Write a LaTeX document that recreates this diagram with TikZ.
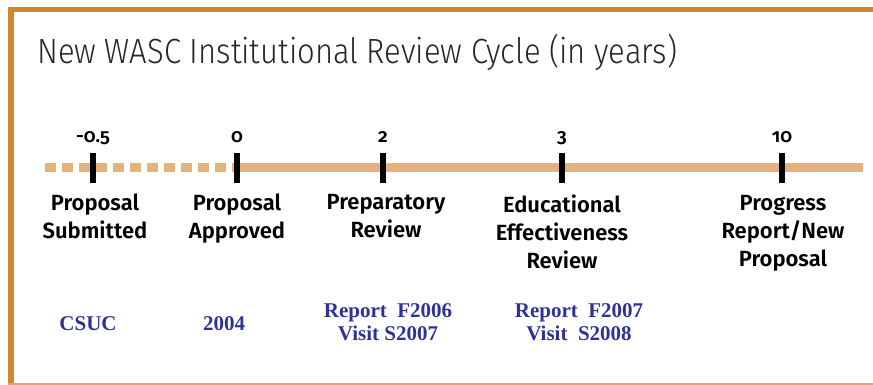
\documentclass[tikz,border=0pt]{standalone}
\usepackage{fontspec}
\setmainfont{Fira Sans}
\newfontfamily\titlefont{Fira Sans Light}
\newfontfamily\labelfont{Fira Sans SemiBold}
\newfontfamily\yearfont{Fira Sans SemiBold}[RawFeature=+onum]
\newfontfamily\datefont{Liberation Serif}
\definecolor{frameorange}{RGB}{210,133,44}
\definecolor{frameorangelight}{RGB}{230,165,90}
\definecolor{timeline}{RGB}{228,178,124}
\definecolor{dateblue}{RGB}{46,50,150}
\tikzset{
  titletext/.style={anchor=base west, inner sep=0pt, xscale=0.885, font=\titlefont\fontsize{35}{40}\selectfont, text=black!85},
  yearnum/.style={anchor=base, inner sep=0pt, font=\yearfont\fontsize{19}{22}\selectfont},
  stage/.style={anchor=north, inner sep=0pt, align=center, font=\labelfont\fontsize{22}{28}\selectfont},
  datetext/.style={anchor=base, inner sep=0pt, align=center, text=dateblue, font=\datefont\bfseries\fontsize{21}{23}\selectfont},
  tickmark/.style={line width=5.5pt, black},
  axis/.style={line width=9pt, timeline},
}
\begin{document}
\begin{tikzpicture}[x=1pt, y=-1pt]
\useasboundingbox (0,0) rectangle (873,385);
% frame
\draw[line width=5pt, frameorange] (8,10) -- (873,10);
\draw[line width=6pt, frameorange] (11,8) -- (11,383);
\draw[line width=2.5pt, frameorangelight] (8,384) -- (873,384);
% title
\node[titletext] (title) at (37,64) {New WASC Institutional Review Cycle (in years)};
% axis
\coordinate (pre) at (45,168);
\coordinate (t0) at (237,168);
\coordinate (tend) at (863,168);
\draw[axis, dash pattern=on 11pt off 6pt] (pre) -- (t0);
\draw[axis] (t0) -- (tend);
% ticks
\foreach \n/\x in {m/93, a/237, b/383, c/562, d/782}{
  \coordinate (tick\n) at (\x,168);
  \draw[tickmark] (\x,153) -- (\x,183);
}
% years
\node[yearnum] (ym) at (93,143) {-0.5};
\node[yearnum] (ya) at (237,143) {0};
\node[yearnum] (yb) at (383,143) {2};
\node[yearnum] (yc) at (562,143) {3};
\node[yearnum] (yd) at (782,143) {10};
% stages
\node[stage] (sm) at (95,194) {Proposal\\Submitted};
\node[stage] (sa) at (237,194) {Proposal\\Approved};
\node[stage] (sb) at (386,194) {Preparatory\\Review};
\node[stage] (sc) at (562,195) {Educational\\Effectiveness\\Review};
\node[stage] (sd) at (783,195) {Progress\\Report/New\\Proposal};
% dates
\node[datetext] (dm) at (88,330) {CSUC};
\node[datetext] (da) at (224,330) {2004};
\node[datetext] (db) at (388,340) {Report\ \ F2006\\Visit S2007};
\node[datetext] (dc) at (579,340) {Report\ \ F2007\\Visit\ \ S2008};
\end{tikzpicture}
\end{document}
